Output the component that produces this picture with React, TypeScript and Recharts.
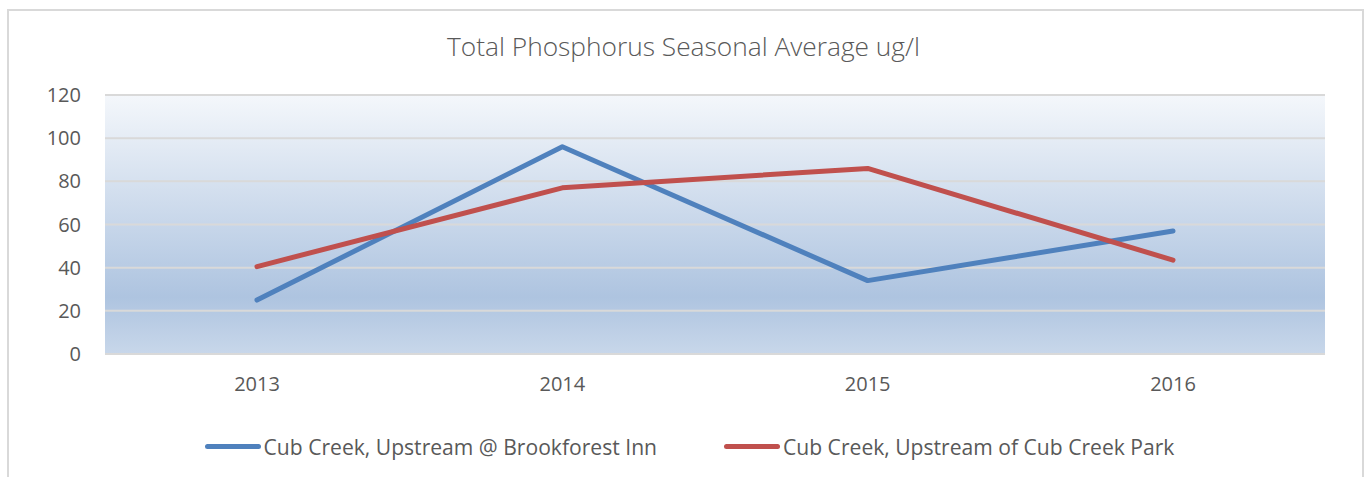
import React from 'react';
import { LineChart, Line, XAxis, YAxis, CartesianGrid, Legend } from 'recharts';

const years = ['2013', '2014', '2015', '2016'];
const brookforestInn = [25, 96, 34, 57];
const cubCreekPark = [40.5, 77, 86, 43.5];
const yTicks = [0, 20, 40, 60, 80, 100, 120];
const seriesNames = ['Cub Creek, Upstream @ Brookforest Inn', 'Cub Creek, Upstream of Cub Creek Park'];
const seriesColors = ['#4F81BD', '#C0504D'];
const title = 'Total Phosphorus Seasonal Average ug/l';

const data = years.map((y, i) => ({ year: y, a: brookforestInn[i], b: cubCreekPark[i] }));

const FONT = '"Open Sans", sans-serif';
const TEXT = '#595959';

function LegendContent(props: any) {
  const payload = props.payload || [];
  return (
    <div style={{ display: 'flex', justifyContent: 'center', alignItems: 'center', height: 30, paddingLeft: 12 }}>
      {payload.map((p: any, i: number) => (
        <div key={i} style={{ display: 'flex', alignItems: 'center', marginRight: i === 0 ? 67 : 0 }}>
          <div style={{ width: 56, height: 5, borderRadius: 3, background: p.color, marginRight: 3 }} />
          <span style={{ fontFamily: FONT, fontSize: 21.1, color: TEXT, whiteSpace: 'nowrap' }}>{p.value}</span>
        </div>
      ))}
    </div>
  );
}

export default function App() {
  return (
    <div style={{ position: 'relative', width: 1367, height: 477, overflow: 'hidden', background: '#fff' }}>
      <style>{`body{margin:0}`}</style>
      <div style={{ position: 'absolute', left: 7, top: 9, width: 1357, height: 520, border: '2px solid #D9D9D9', boxSizing: 'border-box' }} />
      <div style={{ position: 'absolute', left: 0, top: 29, width: 1367, textAlign: 'center', fontFamily: FONT, fontWeight: 300, fontSize: 26.3, color: TEXT, lineHeight: '34px' }}>
        {title}
      </div>
      <div style={{ position: 'absolute', left: 0, top: 0 }}>
        <LineChart width={1367} height={477} data={data} margin={{ top: 95, right: 42, left: 0, bottom: 16 }}>
          <defs>
            <linearGradient id="plotBg" x1="0" y1="0" x2="0" y2="1">
              <stop offset="0%" stopColor="#F4F7FB" />
              <stop offset="78%" stopColor="#AEC4E0" />
              <stop offset="100%" stopColor="#C8D7EA" />
            </linearGradient>
          </defs>
          <CartesianGrid vertical={false} stroke="#D9D9D9" strokeWidth={2} fill="url(#plotBg)" fillOpacity={1} />
          <XAxis dataKey="year" height={77} padding={{ left: 152, right: 152 }} tickLine={false} tickSize={0} tickMargin={23} axisLine={{ stroke: '#D9D9D9', strokeWidth: 2 }} tick={{ fontFamily: FONT, fontSize: 20, fill: TEXT }} />
          <YAxis width={105} domain={[0, 120]} ticks={yTicks} tickLine={false} tickSize={0} tickMargin={24} axisLine={false} tick={{ fontFamily: FONT, fontSize: 20, fill: TEXT }} />
          <Legend verticalAlign="bottom" height={30} wrapperStyle={{ left: 0, width: 1367, height: 30 }} content={<LegendContent />} />
          <Line type="linear" dataKey="a" name={seriesNames[0]} stroke={seriesColors[0]} strokeWidth={5} dot={false} isAnimationActive={false} strokeLinecap="round" strokeLinejoin="round" />
          <Line type="linear" dataKey="b" name={seriesNames[1]} stroke={seriesColors[1]} strokeWidth={5} dot={false} isAnimationActive={false} strokeLinecap="round" strokeLinejoin="round" />
        </LineChart>
      </div>
    </div>
  );
}
